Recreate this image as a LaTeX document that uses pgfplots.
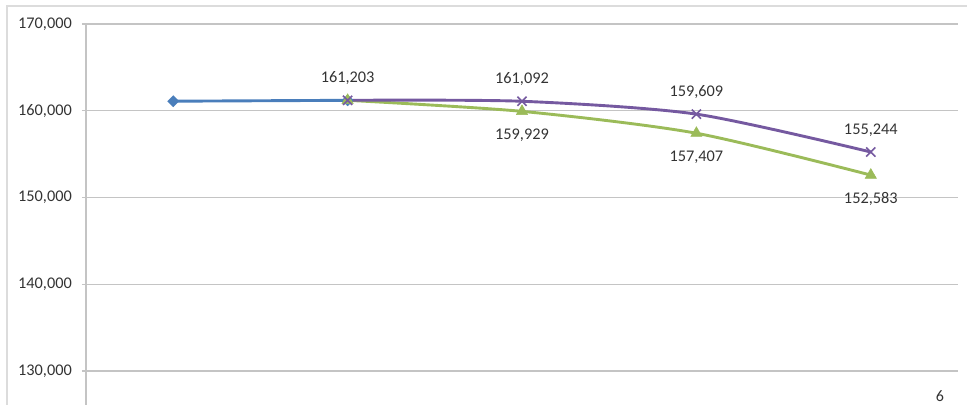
\documentclass[border=0pt]{standalone}
\usepackage{fontspec}
\setmainfont{Carlito}
\usepackage{pgfplots}
\pgfplotsset{compat=1.18}

\definecolor{serBlue}{HTML}{4A7EBB}
\definecolor{serPurple}{HTML}{7559A0}
\definecolor{serGreen}{HTML}{9BBB59}
\definecolor{gridGray}{HTML}{C4C4C4}
\definecolor{frameGray}{HTML}{DCDCDC}
\definecolor{txt}{HTML}{333333}

\begin{document}
\begin{tikzpicture}
\useasboundingbox (-86bp,0bp) rectangle (881bp,405bp);
% chart frame
\draw[frameGray, line width=1.4bp] (-79bp,0bp) -- (-79bp,399bp) -- (881bp,399bp);

\begin{axis}[
  at={(0bp,0bp)}, anchor=south west,
  scale only axis, width=872bp, height=381bp,
  xmin=-0.5, xmax=4.5, ymin=126080, ymax=170000,
  clip=false,
  axis x line=none,
  axis y line=left,
  y axis line style={-, draw=gridGray, line width=1.2bp},
  ytick={130000,140000,150000,160000,170000},
  ymajorgrids,
  major grid style={draw=gridGray, line width=1.2bp},
  tick align=outside,
  major tick length=4bp,
  ytick style={draw=gridGray, line width=1.2bp},
  scaled y ticks=false,
  /pgf/number format/.cd, fixed, precision=0, 1000 sep={,}, assume math mode=true,
  /pgfplots/.cd,
  yticklabel style={font=\fontsize{16.3bp}{19bp}\selectfont, text=txt, anchor=east, inner sep=0pt, xshift=-10bp},
  every node near coord/.append style={font=\fontsize{16.3bp}{19bp}\selectfont, text=txt, anchor=center},
]
% series 1
\addplot[serBlue, line width=2.9bp, mark=square*, mark size=3.9bp,
  mark options={rotate=45, fill=serBlue, draw=serBlue, line width=0.5bp}]
  coordinates {(0,161100) (1,161203)};
% series 3
\addplot[serGreen, line width=2.9bp, smooth, tension=0.45, mark=triangle*, mark size=6.5bp,
  mark options={fill=serGreen, draw=serGreen, line width=0.5bp}]
  coordinates {(1,161203) (2,159929) (3,157407) (4,152583)};
% series 2
\addplot[serPurple, line width=2.9bp, smooth, tension=0.45, mark=x, mark size=6.5bp,
  mark options={draw=serPurple, line width=1.6bp},
  nodes near coords,
  every node near coord/.append style={yshift=22bp}]
  coordinates {(1,161203) (2,161092) (3,159609) (4,155244)};
% value labels of series 3, set beneath its points
\addplot[draw=none, mark=none, nodes near coords,
  every node near coord/.append style={yshift=-24bp}]
  coordinates {(2,159929) (3,157407) (4,152583)};
\end{axis}

\node[text=txt, font=\fontsize{16bp}{19bp}\selectfont] at (854bp,9bp) {6};
\end{tikzpicture}
\end{document}
